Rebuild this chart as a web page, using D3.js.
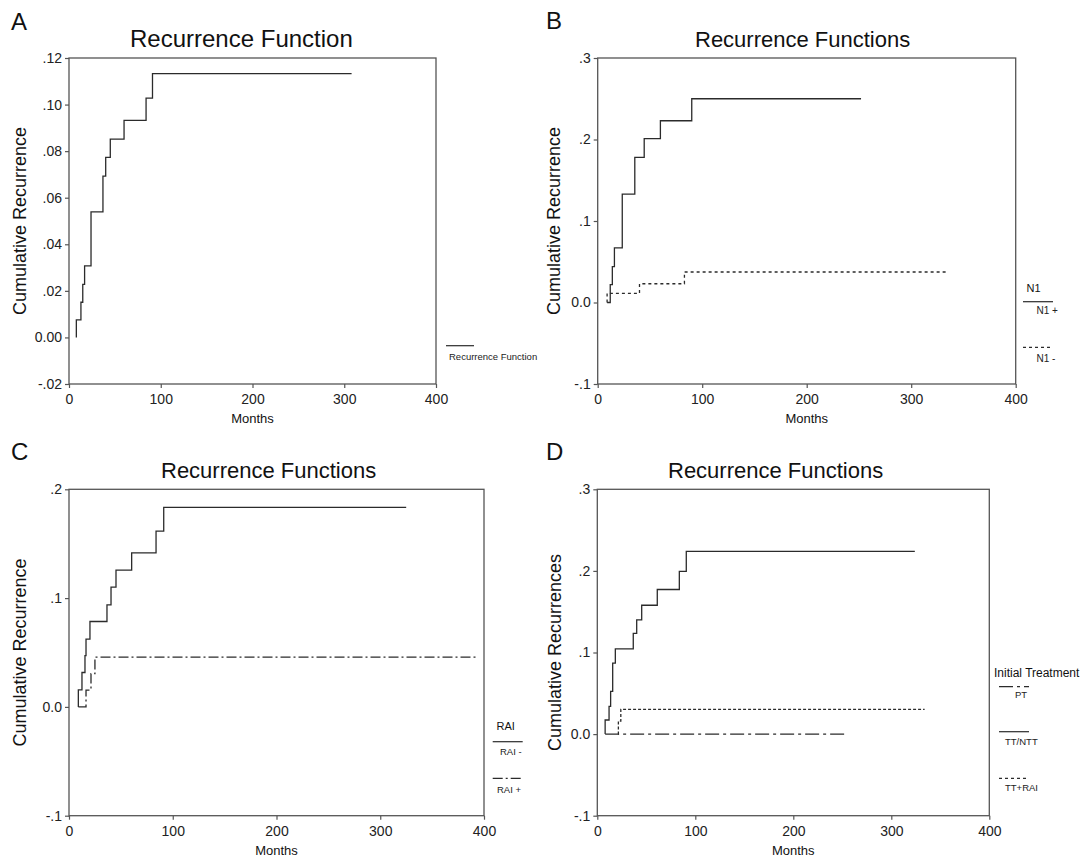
<!DOCTYPE html>
<html>
<head>
<meta charset="utf-8">
<script src="https://d3js.org/d3.v7.min.js"></script>
<style>
body { margin: 0; background: #fff; }
svg { font-family: Arial, "Liberation Sans", sans-serif; }
</style>
</head>
<body>
<script>
//values
var monthTicks = [0, 100, 200, 300, 400];

//panel A
var aYTicks = [-0.02, 0, 0.02, 0.04, 0.06, 0.08, 0.10, 0.12];
var aYLabels = ["-.02", "0.00", ".02", ".04", ".06", ".08", ".10", ".12"];
var aTimes  = [8, 8, 13, 15, 17, 24, 37, 40, 45, 60, 84, 91, 308];
var aValues = [0, 0.0075, 0.0151, 0.0228, 0.0307, 0.0539, 0.0693, 0.0773, 0.0852, 0.0932, 0.1028, 0.1133, 0.1133];

//panel B
var bYTicks = [-0.1, 0, 0.1, 0.2, 0.3];
var bYLabels = ["-.1", "0.0", ".1", ".2", ".3"];
var n1PlusTimes  = [9, 12, 14, 16, 23.5, 35.5, 44.5, 60, 90, 252];
var n1PlusValues = [0, 0.022, 0.044, 0.067, 0.133, 0.178, 0.201, 0.223, 0.25, 0.25];
var n1MinusTimes  = [9, 9, 40, 83, 333];
var n1MinusValues = [0, 0.0113, 0.023, 0.0374, 0.0374];

//panel C
var cYTicks = [-0.1, 0, 0.1, 0.2];
var cYLabels = ["-.1", "0.0", ".1", ".2"];
var raiMinusTimes  = [9, 9, 12.5, 15.4, 16.4, 20.2, 36.6, 40.5, 45.3, 60.4, 83.9, 91.3, 325];
var raiMinusValues = [0, 0.0157, 0.0316, 0.0472, 0.0623, 0.0785, 0.0938, 0.110, 0.1257, 0.1416, 0.1615, 0.1833, 0.1833];
var raiPlusTimes  = [9, 16.4, 21.2, 25, 392];
var raiPlusValues = [0, 0.0155, 0.0305, 0.0458, 0.0458];

//panel D
var dYTicks = [-0.1, 0, 0.1, 0.2, 0.3];
var dYLabels = ["-.1", "0.0", ".1", ".2", ".3"];
var nttTimes  = [8, 8, 12, 13.6, 15.7, 18.4, 36.7, 40.2, 45.3, 61.2, 83.7, 90.8, 324];
var nttValues = [0, 0.0173, 0.0340, 0.0524, 0.0871, 0.1044, 0.1235, 0.1399, 0.1579, 0.1772, 0.1995, 0.2240, 0.2240];
var ptTimes  = [8, 252];
var ptValues = [0, 0];
var ttRaiTimes  = [21, 21.5, 24, 334];
var ttRaiValues = [0, 0.016, 0.0304, 0.0304];

//line styles
var solid = null,
    dotted = "3,3",
    fineDotted = "3,2",
    dashDot = "10,3,2,3",
    longDashDot = "14,4,3,4";

var svg = d3.select("body").append("svg")
    .attr("width", 1084)
    .attr("height", 857);

//pairs times with values for the step line
function zipSeries(times, values) {
    return times.map(function(t, i) { return [t, values[i]]; });
}

function drawPanel(p) {
    var x = d3.scaleLinear().domain([0, 400]).range([p.left, p.right]);
    var y = d3.scaleLinear().domain(p.yDomain).range([p.bottom, p.top]);
    var g = svg.append("g");

    //panel letter and title
    g.append("text")
        .attr("x", p.letterX).attr("y", p.letterY)
        .attr("font-size", 24).attr("fill", "#111")
        .text(p.letter);
    g.append("text")
        .attr("x", p.titleX).attr("y", p.titleY)
        .attr("font-size", p.titleSize).attr("fill", "#111")
        .text(p.title);

    //axes
    var yAxis = g.append("g")
        .attr("transform", "translate(" + p.left + ",0)")
        .call(d3.axisLeft(y).tickValues(p.yTicks)
            .tickFormat(function(d, i) { return p.yLabels[i]; })
            .tickSize(4).tickPadding(3));
    var xAxis = g.append("g")
        .attr("transform", "translate(0," + p.bottom + ")")
        .call(d3.axisBottom(x).tickValues(monthTicks)
            .tickFormat(d3.format("d")).tickSize(4).tickPadding(6));
    [yAxis, xAxis].forEach(function(a) {
        a.select(".domain").remove();
        a.selectAll("line").attr("stroke", "#555").attr("stroke-width", 1.2);
        a.selectAll("text").attr("font-size", 14).attr("fill", "#222")
            .attr("font-family", "Arial, 'Liberation Sans', sans-serif");
    });

    //frame round the plot
    g.append("rect")
        .attr("x", p.left).attr("y", p.top)
        .attr("width", p.right - p.left).attr("height", p.bottom - p.top)
        .attr("fill", "none").attr("stroke", "#555").attr("stroke-width", 1.3);

    //axis titles
    g.append("text")
        .attr("transform", "translate(" + p.yTitleX + "," + ((p.top + p.bottom) / 2) + ") rotate(-90)")
        .attr("text-anchor", "middle")
        .attr("font-size", 18).attr("fill", "#111")
        .text(p.yTitle);
    g.append("text")
        .attr("x", (p.left + p.right) / 2).attr("y", p.bottom + 39)
        .attr("text-anchor", "middle")
        .attr("font-size", 13).attr("fill", "#111")
        .text("Months");

    //step curves
    var line = d3.line()
        .x(function(d) { return x(d[0]); })
        .y(function(d) { return y(d[1]); })
        .curve(d3.curveStepAfter);
    p.series.forEach(function(s) {
        g.append("path")
            .datum(zipSeries(s.times, s.values))
            .attr("d", line)
            .attr("fill", "none")
            .attr("stroke", "#2b2b2b")
            .attr("stroke-width", 1.3)
            .attr("stroke-dasharray", s.dash);
    });

    //legend
    var lg = p.legend;
    if (lg.header) {
        g.append("text")
            .attr("x", lg.headerX).attr("y", lg.headerY)
            .attr("font-size", lg.headerSize).attr("fill", "#111")
            .text(lg.header);
    }
    lg.items.forEach(function(it) {
        g.append("line")
            .attr("x1", lg.x1).attr("x2", lg.x2)
            .attr("y1", it.lineY).attr("y2", it.lineY)
            .attr("stroke", "#2b2b2b").attr("stroke-width", 1.2)
            .attr("stroke-dasharray", it.dash);
        g.append("text")
            .attr("x", it.textX).attr("y", it.textY)
            .attr("font-size", lg.size).attr("fill", "#222")
            .text(it.label);
    });
}

drawPanel({
    letter: "A", letterX: 11, letterY: 30,
    title: "Recurrence Function", titleX: 130, titleY: 46.5, titleSize: 24,
    yTitle: "Cumulative Recurrence", yTitleX: 26,
    left: 69, right: 436, top: 58, bottom: 384,
    yDomain: [-0.02, 0.12], yTicks: aYTicks, yLabels: aYLabels,
    series: [{times: aTimes, values: aValues, dash: solid}],
    legend: {x1: 446, x2: 474, size: 9.5,
        items: [{label: "Recurrence Function", lineY: 345.7, textX: 449, textY: 360, dash: solid}]}
});

drawPanel({
    letter: "B", letterX: 546, letterY: 29,
    title: "Recurrence Functions", titleX: 695, titleY: 46.5, titleSize: 22,
    yTitle: "Cumulative Recurrence", yTitleX: 560,
    left: 597.7, right: 1015.7, top: 58, bottom: 384,
    yDomain: [-0.1, 0.3], yTicks: bYTicks, yLabels: bYLabels,
    series: [{times: n1PlusTimes, values: n1PlusValues, dash: solid},
             {times: n1MinusTimes, values: n1MinusValues, dash: dotted}],
    legend: {header: "N1", headerX: 1026.5, headerY: 291.5, headerSize: 11,
        x1: 1023, x2: 1053, size: 10,
        items: [{label: "N1 +", lineY: 301.7, textX: 1036.5, textY: 314, dash: solid},
                {label: "N1 -", lineY: 347.3, textX: 1036.5, textY: 361.5, dash: dotted}]}
});

drawPanel({
    letter: "C", letterX: 11, letterY: 460,
    title: "Recurrence Functions", titleX: 161, titleY: 477.5, titleSize: 22,
    yTitle: "Cumulative Recurrence", yTitleX: 26,
    left: 69, right: 484, top: 489.3, bottom: 815.7,
    yDomain: [-0.1, 0.2], yTicks: cYTicks, yLabels: cYLabels,
    series: [{times: raiMinusTimes, values: raiMinusValues, dash: solid},
             {times: raiPlusTimes, values: raiPlusValues, dash: dashDot}],
    legend: {header: "RAI", headerX: 496.5, headerY: 730, headerSize: 11,
        x1: 492.7, x2: 522.7, size: 9.5,
        items: [{label: "RAI -", lineY: 741.7, textX: 500, textY: 755, dash: solid},
                {label: "RAI +", lineY: 778.3, textX: 497, textY: 793, dash: dashDot}]}
});

drawPanel({
    letter: "D", letterX: 546, letterY: 460,
    title: "Recurrence Functions", titleX: 668, titleY: 477.5, titleSize: 22,
    yTitle: "Cumulative Recurrences", yTitleX: 561,
    left: 597.3, right: 989.3, top: 489.3, bottom: 815.7,
    yDomain: [-0.1, 0.3], yTicks: dYTicks, yLabels: dYLabels,
    series: [{times: nttTimes, values: nttValues, dash: solid},
             {times: ttRaiTimes, values: ttRaiValues, dash: fineDotted},
             {times: ptTimes, values: ptValues, dash: longDashDot}],
    legend: {header: "Initial Treatment", headerX: 994, headerY: 676.7, headerSize: 12,
        x1: 999, x2: 1029, size: 9.5,
        items: [{label: "PT", lineY: 686.7, textX: 1015, textY: 698, dash: longDashDot},
                {label: "TT/NTT", lineY: 731.7, textX: 1005, textY: 745, dash: solid},
                {label: "TT+RAI", lineY: 778.3, textX: 1005, textY: 790.7, dash: dotted}]}
});
</script>
</body>
</html>
